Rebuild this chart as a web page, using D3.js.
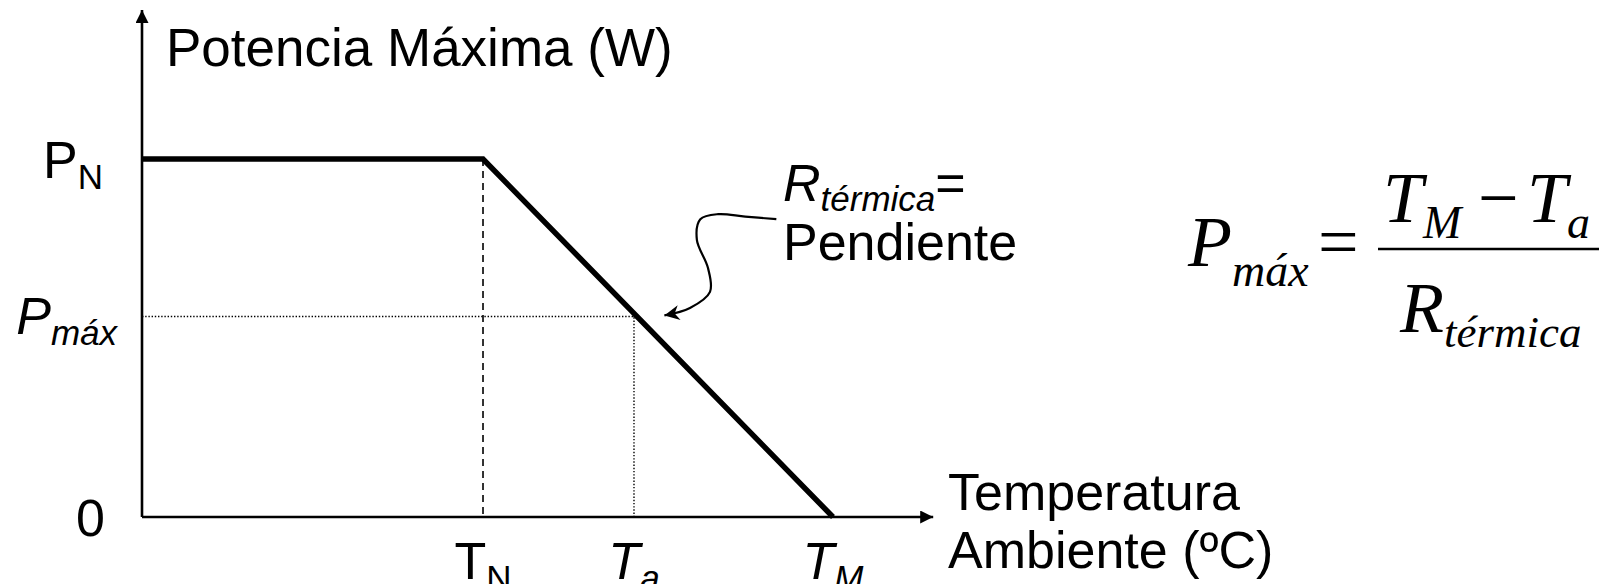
<!DOCTYPE html>
<html>
<head>
<meta charset="utf-8">
<script src="https://cdn.jsdelivr.net/npm/d3@7"></script>
<style>
  html, body { margin: 0; padding: 0; background: #fff; }
  svg { display: block; }
  .sans { font-family: 'Liberation Sans', Arial, Helvetica, sans-serif; }
  .serif { font-family: 'Liberation Serif', 'Times New Roman', serif; }
</style>
</head>
<body>
<div id="chart"></div>
<script>
// curve: flat at P_N until T_N, then falls linearly to 0 at T_M
var curveTemp = [0, 49.35, 100]
var curvePower = [100, 100, 0]

// marks on the temperature axis
var tempValues = [49.35, 71.2, 100]
var tempBase = ['T', 'T', 'T']
var tempSub = ['N', 'a', 'M']
var tempItalic = [false, true, true]

// marks on the power axis
var powerValues = [100, 56, 0]
var powerBase = ['P', 'P', '0']
var powerSub = ['N', 'máx', '']
var powerItalic = [false, true, false]

// working point (T_a, P_max)
var workTemp = 71.2
var workPower = 56

// axis extents
var tempAxisMax = 114.5
var powerAxisMax = 141.6

// annotation arrow "R térmica = Pendiente", in data units
var noteTemp = [91.8, 87.3, 83.4, 80.8, 80.3, 81.9, 82.2, 79.3, 75.6]
var notePower = [83.2, 83.9, 84.6, 83.2, 77.4, 69.6, 62.9, 58.4, 56.3]

var width = 1599
var height = 584

var svg = d3.select('#chart').append('svg')
  .attr('width', width)
  .attr('height', height)

var defs = svg.append('defs')

defs.append('marker')
  .attr('id', 'axisHead')
  .attr('viewBox', '0 0 10 10')
  .attr('refX', 10)
  .attr('refY', 5)
  .attr('markerUnits', 'userSpaceOnUse')
  .attr('markerWidth', 19)
  .attr('markerHeight', 13)
  .attr('orient', 'auto')
  .append('path')
  .attr('d', 'M0,0L10,5L0,10Z')
  .attr('fill', '#000')

defs.append('marker')
  .attr('id', 'noteHead')
  .attr('viewBox', '0 0 10 10')
  .attr('refX', 10)
  .attr('refY', 5)
  .attr('markerUnits', 'userSpaceOnUse')
  .attr('markerWidth', 21)
  .attr('markerHeight', 15)
  .attr('orient', 'auto')
  .append('path')
  .attr('d', 'M0,0L10,5L0,10L3,5Z')
  .attr('fill', '#000')

var x = d3.scaleLinear()
  .domain([0, 100])
  .range([142, 833])

var y = d3.scaleLinear()
  .domain([0, 100])
  .range([517, 159])

var gGuides = svg.append('g').attr('class', 'guides')
var gAxes = svg.append('g').attr('class', 'axes')
var gCurve = svg.append('g').attr('class', 'curve')
var gLabels = svg.append('g').attr('class', 'labels sans')
var gNote = svg.append('g').attr('class', 'note')
var gFormula = svg.append('g').attr('class', 'formula serif')

// guides: dashed at T_N, dotted to the working point
gGuides.append('line')
  .attr('x1', x(curveTemp[1]))
  .attr('x2', x(curveTemp[1]))
  .attr('y1', y(curvePower[1]))
  .attr('y2', y(0))
  .attr('stroke', '#000')
  .attr('stroke-width', 1.6)
  .attr('stroke-dasharray', '7,5')

gGuides.append('polyline')
  .attr('points', [
    [x(0), y(workPower)],
    [x(workTemp), y(workPower)],
    [x(workTemp), y(0)]
  ].join(' '))
  .attr('fill', 'none')
  .attr('stroke', '#000')
  .attr('stroke-width', 1.4)
  .attr('stroke-dasharray', '1.4,1.8')

// axes with arrow heads
gAxes.append('line')
  .attr('x1', x(0))
  .attr('y1', y(0))
  .attr('x2', x(tempAxisMax))
  .attr('y2', y(0))
  .attr('stroke', '#000')
  .attr('stroke-width', 2.6)
  .attr('marker-end', 'url(#axisHead)')

gAxes.append('line')
  .attr('x1', x(0))
  .attr('y1', y(0))
  .attr('x2', x(0))
  .attr('y2', y(powerAxisMax))
  .attr('stroke', '#000')
  .attr('stroke-width', 2.6)
  .attr('marker-end', 'url(#axisHead)')

// power derating curve
var line = d3.line()
  .x(function (d) { return x(d[0]) })
  .y(function (d) { return y(d[1]) })

gCurve.append('path')
  .datum(d3.zip(curveTemp, curvePower))
  .attr('d', line)
  .attr('fill', 'none')
  .attr('stroke', '#000')
  .attr('stroke-width', 5.5)
  .attr('stroke-linejoin', 'miter')

// temperature labels
var tempLab = gLabels.selectAll('text.temp')
    .data(d3.range(tempValues.length))
  .enter().append('text')
    .attr('class', 'temp')
    .attr('x', function (i) { return x(tempValues[i]) })
    .attr('y', 579)
    .attr('text-anchor', 'middle')
    .attr('font-size', 52)
    .attr('font-style', function (i) { return tempItalic[i] ? 'italic' : 'normal' })

tempLab.append('tspan').text(function (i) { return tempBase[i] })
tempLab.append('tspan')
  .attr('dy', 11)
  .attr('font-size', 35)
  .text(function (i) { return tempSub[i] })

// power labels
var powerEnd = [103, 117, 105]
var powerDy = [19, 17, 19]

var powerLab = gLabels.selectAll('text.power')
    .data(d3.range(powerValues.length))
  .enter().append('text')
    .attr('class', 'power')
    .attr('x', function (i) { return powerEnd[i] })
    .attr('y', function (i) { return y(powerValues[i]) + powerDy[i] })
    .attr('text-anchor', 'end')
    .attr('font-size', 52)
    .attr('font-style', function (i) { return powerItalic[i] ? 'italic' : 'normal' })

powerLab.append('tspan').text(function (i) { return powerBase[i] })
powerLab.append('tspan')
  .attr('dy', 11)
  .attr('font-size', 35)
  .text(function (i) { return powerSub[i] })

// axis titles
gLabels.append('text')
  .attr('x', 166)
  .attr('y', 66)
  .attr('font-size', 53)
  .text('Potencia Máxima (W)')

var xTitle = gLabels.append('text')
  .attr('x', 948)
  .attr('font-size', 52)

xTitle.append('tspan').attr('x', 948).attr('y', 510).text('Temperatura')
xTitle.append('tspan').attr('x', 948).attr('y', 568).text('Ambiente (ºC)')

// slope annotation
var noteText = gNote.append('text')
  .attr('class', 'sans')
  .attr('x', 783)
  .attr('y', 201)
  .attr('font-size', 52)

noteText.append('tspan').attr('font-style', 'italic').text('R')
noteText.append('tspan')
  .attr('font-style', 'italic')
  .attr('font-size', 35)
  .attr('dy', 10)
  .text('térmica')
noteText.append('tspan')
  .attr('dy', -10)
  .text('=')

gNote.append('text')
  .attr('class', 'sans')
  .attr('x', 783)
  .attr('y', 260)
  .attr('font-size', 52)
  .text('Pendiente')

var noteLine = d3.line()
  .x(function (d) { return x(d[0]) })
  .y(function (d) { return y(d[1]) })
  .curve(d3.curveCatmullRom)

gNote.append('path')
  .datum(d3.zip(noteTemp, notePower))
  .attr('d', noteLine)
  .attr('fill', 'none')
  .attr('stroke', '#000')
  .attr('stroke-width', 2.2)
  .attr('marker-end', 'url(#noteHead)')

// formula P_max = (T_M - T_a) / R_termica
var lhs = gFormula.append('text')
  .attr('x', 1188)
  .attr('y', 266)
  .attr('font-size', 72)

lhs.append('tspan').attr('font-style', 'italic').text('P')
lhs.append('tspan')
  .attr('font-style', 'italic')
  .attr('font-size', 46)
  .attr('dy', 20)
  .text('máx')

gFormula.append('text')
  .attr('x', 1318)
  .attr('y', 266)
  .attr('font-size', 72)
  .text('=')

gFormula.append('line')
  .attr('x1', 1378)
  .attr('x2', 1599)
  .attr('y1', 249)
  .attr('y2', 249)
  .attr('stroke', '#000')
  .attr('stroke-width', 2.6)

var numLeft = gFormula.append('text')
  .attr('x', 1383)
  .attr('y', 222)
  .attr('font-size', 72)
  .attr('font-style', 'italic')

numLeft.append('tspan').text('T')
numLeft.append('tspan')
  .attr('font-size', 46)
  .attr('dy', 16)
  .text('M')

gFormula.append('text')
  .attr('x', 1478)
  .attr('y', 222)
  .attr('font-size', 72)
  .text('−')

var numRight = gFormula.append('text')
  .attr('x', 1527)
  .attr('y', 222)
  .attr('font-size', 72)
  .attr('font-style', 'italic')

numRight.append('tspan').text('T')
numRight.append('tspan')
  .attr('font-size', 46)
  .attr('dy', 16)
  .text('a')

var den = gFormula.append('text')
  .attr('x', 1400)
  .attr('y', 332)
  .attr('font-size', 72)

den.append('tspan').attr('font-style', 'italic').text('R')
den.append('tspan')
  .attr('font-style', 'italic')
  .attr('font-size', 45)
  .attr('dy', 15)
  .text('térmica')
</script>
</body>
</html>
